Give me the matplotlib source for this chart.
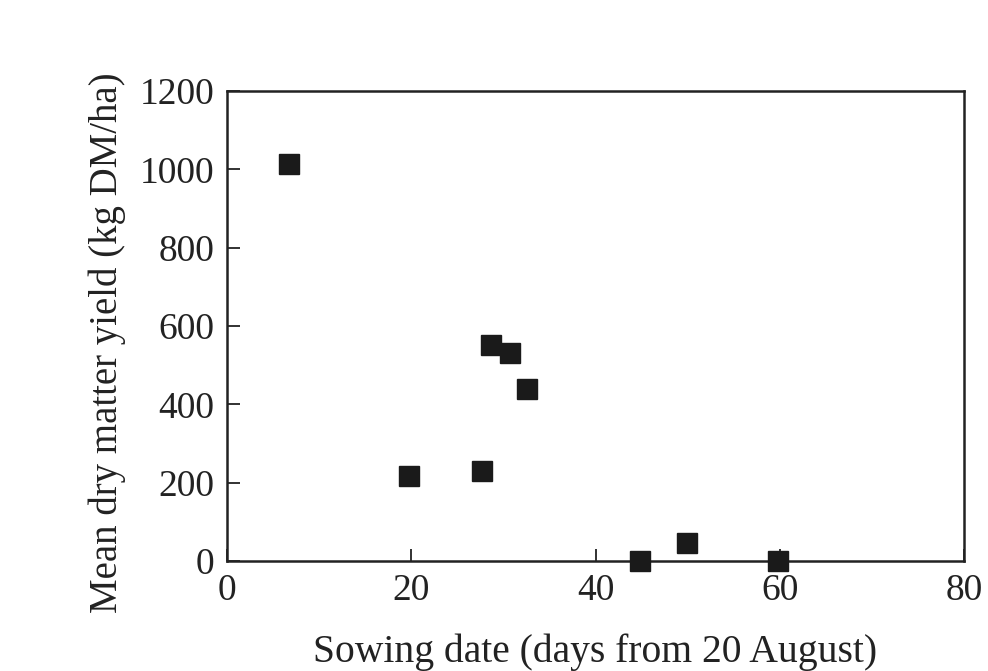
import numpy as np
from matplotlib import pyplot as plt

# sowing date (days from 20 August) and mean dry matter yield (kg DM/ha)
days = [6.7, 19.8, 27.7, 28.6, 30.7, 32.6, 44.8, 49.9, 59.8]
yield_dm = [1013, 217, 230, 551, 531, 439, 0, 46, 0]

xticks = [0, 20, 40, 60, 80]
yticks = [0, 200, 400, 600, 800, 1000, 1200]

plt.rcParams['font.family'] = ['Liberation Serif', 'DejaVu Serif']

fig = plt.figure(figsize=(9.88, 6.71), dpi=100)
ax = fig.add_axes([0.2298, 0.1639, 0.7459, 0.7005])

ax.plot(days, yield_dm, linestyle='none', marker='s', markersize=14,
        color='#1a1a1a', clip_on=False, zorder=3)

ax.set_xlim(0, 80)
ax.set_ylim(0, 1200)
ax.set_xticks(xticks)
ax.set_yticks(yticks)
ax.tick_params(direction='in', length=9, width=1.3, labelsize=27,
               colors='#222222', pad=9)
for s in ax.spines.values():
  s.set_linewidth(1.8)
  s.set_color('#222222')

ax.set_xlabel('Sowing date (days from 20 August)', fontsize=28.5, color='#222222', labelpad=18)
ax.set_ylabel('Mean dry matter yield (kg DM/ha)', fontsize=28, color='#222222')
ax.yaxis.set_label_coords(-0.137, 0.465)

fig.savefig('out.png', dpi=100)
